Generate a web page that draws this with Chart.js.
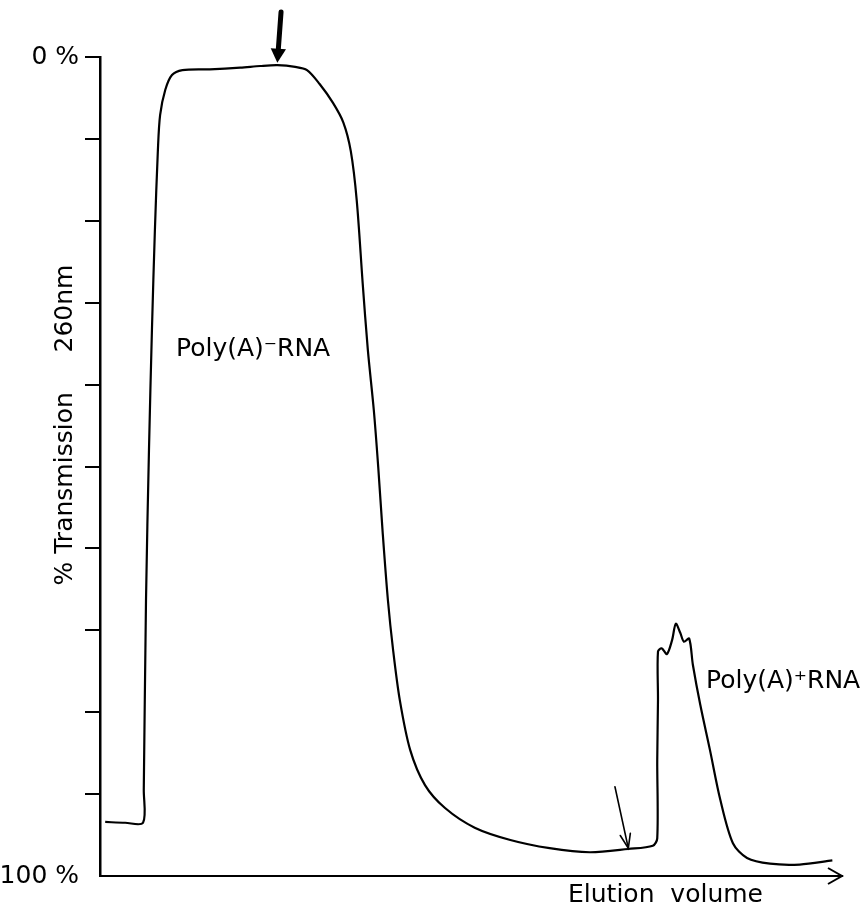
<!DOCTYPE html>
<html>
<head>
<meta charset="utf-8">
<script src="https://cdn.jsdelivr.net/npm/chart.js@4.4.0/dist/chart.umd.min.js"></script>
<style>
  body { margin: 0; background: #fff; }
  canvas { display: block; }
</style>
</head>
<body>
<canvas id="chart-elucion" width="867" height="908"></canvas>
<script>
// Volumen de elución (unidades arbitrarias, 0-100) y % de transmisión a 260nm
const volumen = [
  0.7, 3.4, 5.8, 5.9, 6.2, 6.6, 7.0, 7.4, 7.8, 8.1, 8.8, 9.7, 11.1, 14.8, 18.9, 21.6,
  23.9, 26.3, 27.9, 29.6, 31.4, 32.8, 33.8, 34.6, 35.4, 36.1, 36.9, 37.5, 38.1, 38.8,
  39.5, 40.4, 41.8, 43.8, 46.5, 50.5, 55.3, 60.6, 66.0, 71.2, 74.5, 75.1, 75.1, 75.2,
  75.2, 75.7, 76.4, 77.1, 77.6, 78.2, 78.7, 79.4, 79.9, 80.9, 82.2, 83.6, 85.3, 87.2,
  90.3, 94.3, 98.7
];
const transmision = [
  93.4, 93.5, 93.5, 89.5, 66.3, 48.0, 33.3, 21.1, 11.4, 7.1, 4.0, 2.2, 1.6, 1.5, 1.3, 1.1,
  1.0, 1.2, 1.6, 3.3, 5.6, 8.0, 11.5, 17.5, 27.6, 35.8, 43.1, 50.1, 58.1, 66.3,
  72.4, 78.5, 84.6, 88.9, 91.7, 94.1, 95.6, 96.6, 97.1, 96.7, 96.3, 95.4, 85.8, 78.5,
  72.6, 72.2, 72.9, 71.2, 69.2, 70.3, 71.4, 71.0, 74.2, 79.1, 84.6, 90.7, 96.0, 97.8,
  98.5, 98.6, 98.1
];
const etiquetasY = { 0: '0 %', 100: '100 %' };

// Flechas de la figura (inicio y punta en unidades de los ejes)
const flechaInicio = [[24.4, -5.5], [69.4, 89.1]];
const flechaPunta = [[23.9, 0.7], [71.2, 96.6]];
const flechaGruesa = [true, false];

const fuente = "'DejaVu Sans', sans-serif";
Chart.defaults.font.family = fuente;
Chart.defaults.color = '#000';

function dibujarFlecha(c, x1, y1, x2, y2, gruesa) {
  const ang = Math.atan2(y2 - y1, x2 - x1);
  const largo = gruesa ? 16 : 15;
  const abre = gruesa ? 0.5 : 0.35;
  c.save();
  c.strokeStyle = '#000';
  c.fillStyle = '#000';
  c.lineCap = 'round';
  c.lineWidth = gruesa ? 5 : 1.6;
  c.beginPath();
  c.moveTo(x1, y1);
  if (gruesa) {
    c.lineTo(x2 - (largo - 2) * Math.cos(ang), y2 - (largo - 2) * Math.sin(ang));
  } else {
    c.lineTo(x2, y2);
  }
  c.stroke();
  c.beginPath();
  c.moveTo(x2 - largo * Math.cos(ang - abre), y2 - largo * Math.sin(ang - abre));
  c.lineTo(x2, y2);
  c.lineTo(x2 - largo * Math.cos(ang + abre), y2 - largo * Math.sin(ang + abre));
  if (gruesa) {
    c.closePath();
    c.fill();
  } else {
    c.stroke();
  }
  c.restore();
}

const textosFigura = {
  id: 'textosFigura',
  afterDraw(chart) {
    const c = chart.ctx;
    const { x, y } = chart.scales;
    const area = chart.chartArea;

    // flechas
    flechaInicio.forEach((ini, i) => {
      dibujarFlecha(c,
        x.getPixelForValue(ini[0]), y.getPixelForValue(ini[1]),
        x.getPixelForValue(flechaPunta[i][0]), y.getPixelForValue(flechaPunta[i][1]),
        flechaGruesa[i]);
    });

    // punta de flecha del eje x
    c.save();
    c.strokeStyle = '#000';
    c.lineWidth = 2;
    c.beginPath();
    c.moveTo(area.right - 14, area.bottom - 8);
    c.lineTo(area.right, area.bottom);
    c.lineTo(area.right - 14, area.bottom + 8);
    c.stroke();

    c.fillStyle = '#000';
    c.font = '25px ' + fuente;
    c.textAlign = 'left';
    c.textBaseline = 'alphabetic';
    c.fillText('Poly(A)⁻RNA', 176, 356);
    c.fillText('Poly(A)⁺RNA', 706, 688);
    c.fillText('Elution  volume', 568, 902);

    // título del eje y, girado
    c.translate(72, 425);
    c.rotate(-Math.PI / 2);
    c.textAlign = 'center';
    c.fillText('% Transmission     260nm', 0, 0);
    c.restore();
  }
};

new Chart(document.getElementById('chart-elucion'), {
  type: 'line',
  data: {
    datasets: [{
      label: 'Transmisión',
      data: volumen.map((v, i) => ({ x: v, y: transmision[i] })),
      borderColor: '#000',
      borderWidth: 2.2,
      pointRadius: 0,
      tension: 0.3,
      fill: false
    }]
  },
  options: {
    responsive: false,
    animation: false,
    layout: {
      padding: { top: 57, right: 25, left: 0, bottom: 0 }
    },
    plugins: {
      legend: { display: false },
      tooltip: { enabled: false }
    },
    scales: {
      x: {
        type: 'linear',
        min: 0,
        max: 100,
        afterFit(scale) { scale.height = 32; },
        grid: { display: false },
        ticks: { display: false },
        border: { display: true, color: '#000', width: 2 }
      },
      y: {
        type: 'linear',
        reverse: true,
        min: 0,
        max: 100,
        afterFit(scale) { scale.width = 100; },
        grid: {
          display: true,
          drawOnChartArea: false,
          drawTicks: true,
          tickLength: 15,
          lineWidth: 2,
          color: '#000',
          tickColor: (ctx) => (ctx.tick && ctx.tick.value === 100 ? 'rgba(0,0,0,0)' : '#000')
        },
        border: { display: true, color: '#000', width: 2.5 },
        ticks: {
          stepSize: 10,
          autoSkip: false,
          padding: 6,
          font: { size: 25 },
          color: '#000',
          callback: (valor) => etiquetasY[valor] || ''
        }
      }
    }
  },
  plugins: [textosFigura]
});
</script>
</body>
</html>
